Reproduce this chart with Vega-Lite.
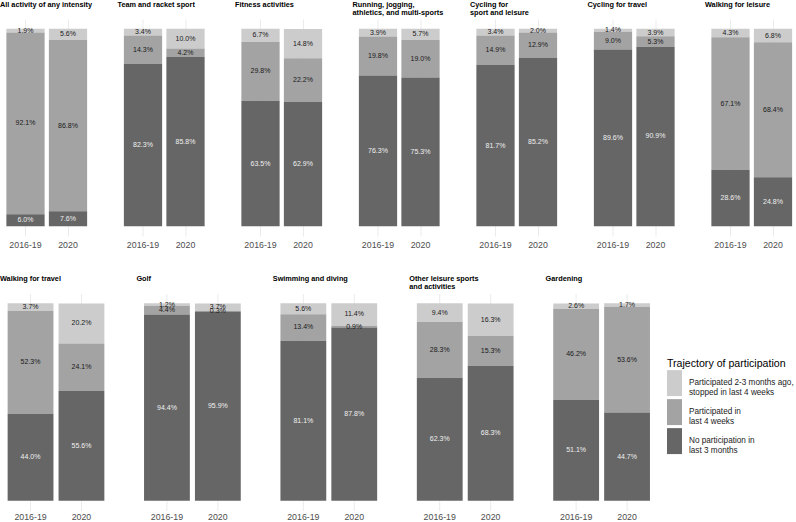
{
"$schema": "https://vega.github.io/schema/vega-lite/v6.json",
"background": "white",
"padding": {"left": 0, "top": 0, "right": 0, "bottom": 0},
"config": {"view": {"stroke": null}, "font": "Liberation Sans"},
"datasets": {
"levels": [
{"trajectory": "No participation in last 3 months", "level": 1},
{"trajectory": "Participated in last 4 weeks", "level": 2},
{"trajectory": "Participated 2-3 months ago, stopped in last 4 weeks", "level": 3}
],
"participation": [
{"activity": "All activity of any intensity", "period": "2016-19", "trajectory": "Participated 2-3 months ago, stopped in last 4 weeks", "pct": 0.019},
{"activity": "All activity of any intensity", "period": "2016-19", "trajectory": "Participated in last 4 weeks", "pct": 0.921},
{"activity": "All activity of any intensity", "period": "2016-19", "trajectory": "No participation in last 3 months", "pct": 0.060},
{"activity": "All activity of any intensity", "period": "2020", "trajectory": "Participated 2-3 months ago, stopped in last 4 weeks", "pct": 0.056},
{"activity": "All activity of any intensity", "period": "2020", "trajectory": "Participated in last 4 weeks", "pct": 0.868},
{"activity": "All activity of any intensity", "period": "2020", "trajectory": "No participation in last 3 months", "pct": 0.076},
{"activity": "Team and racket sport", "period": "2016-19", "trajectory": "Participated 2-3 months ago, stopped in last 4 weeks", "pct": 0.034},
{"activity": "Team and racket sport", "period": "2016-19", "trajectory": "Participated in last 4 weeks", "pct": 0.143},
{"activity": "Team and racket sport", "period": "2016-19", "trajectory": "No participation in last 3 months", "pct": 0.823},
{"activity": "Team and racket sport", "period": "2020", "trajectory": "Participated 2-3 months ago, stopped in last 4 weeks", "pct": 0.100},
{"activity": "Team and racket sport", "period": "2020", "trajectory": "Participated in last 4 weeks", "pct": 0.042},
{"activity": "Team and racket sport", "period": "2020", "trajectory": "No participation in last 3 months", "pct": 0.858},
{"activity": "Fitness activities", "period": "2016-19", "trajectory": "Participated 2-3 months ago, stopped in last 4 weeks", "pct": 0.067},
{"activity": "Fitness activities", "period": "2016-19", "trajectory": "Participated in last 4 weeks", "pct": 0.298},
{"activity": "Fitness activities", "period": "2016-19", "trajectory": "No participation in last 3 months", "pct": 0.635},
{"activity": "Fitness activities", "period": "2020", "trajectory": "Participated 2-3 months ago, stopped in last 4 weeks", "pct": 0.148},
{"activity": "Fitness activities", "period": "2020", "trajectory": "Participated in last 4 weeks", "pct": 0.222},
{"activity": "Fitness activities", "period": "2020", "trajectory": "No participation in last 3 months", "pct": 0.629},
{"activity": "Running, jogging, athletics, and multi-sports", "period": "2016-19", "trajectory": "Participated 2-3 months ago, stopped in last 4 weeks", "pct": 0.039},
{"activity": "Running, jogging, athletics, and multi-sports", "period": "2016-19", "trajectory": "Participated in last 4 weeks", "pct": 0.198},
{"activity": "Running, jogging, athletics, and multi-sports", "period": "2016-19", "trajectory": "No participation in last 3 months", "pct": 0.763},
{"activity": "Running, jogging, athletics, and multi-sports", "period": "2020", "trajectory": "Participated 2-3 months ago, stopped in last 4 weeks", "pct": 0.057},
{"activity": "Running, jogging, athletics, and multi-sports", "period": "2020", "trajectory": "Participated in last 4 weeks", "pct": 0.190},
{"activity": "Running, jogging, athletics, and multi-sports", "period": "2020", "trajectory": "No participation in last 3 months", "pct": 0.753},
{"activity": "Cycling for sport and leisure", "period": "2016-19", "trajectory": "Participated 2-3 months ago, stopped in last 4 weeks", "pct": 0.034},
{"activity": "Cycling for sport and leisure", "period": "2016-19", "trajectory": "Participated in last 4 weeks", "pct": 0.149},
{"activity": "Cycling for sport and leisure", "period": "2016-19", "trajectory": "No participation in last 3 months", "pct": 0.817},
{"activity": "Cycling for sport and leisure", "period": "2020", "trajectory": "Participated 2-3 months ago, stopped in last 4 weeks", "pct": 0.020},
{"activity": "Cycling for sport and leisure", "period": "2020", "trajectory": "Participated in last 4 weeks", "pct": 0.129},
{"activity": "Cycling for sport and leisure", "period": "2020", "trajectory": "No participation in last 3 months", "pct": 0.852},
{"activity": "Cycling for travel", "period": "2016-19", "trajectory": "Participated 2-3 months ago, stopped in last 4 weeks", "pct": 0.014},
{"activity": "Cycling for travel", "period": "2016-19", "trajectory": "Participated in last 4 weeks", "pct": 0.090},
{"activity": "Cycling for travel", "period": "2016-19", "trajectory": "No participation in last 3 months", "pct": 0.896},
{"activity": "Cycling for travel", "period": "2020", "trajectory": "Participated 2-3 months ago, stopped in last 4 weeks", "pct": 0.039},
{"activity": "Cycling for travel", "period": "2020", "trajectory": "Participated in last 4 weeks", "pct": 0.053},
{"activity": "Cycling for travel", "period": "2020", "trajectory": "No participation in last 3 months", "pct": 0.909},
{"activity": "Walking for leisure", "period": "2016-19", "trajectory": "Participated 2-3 months ago, stopped in last 4 weeks", "pct": 0.043},
{"activity": "Walking for leisure", "period": "2016-19", "trajectory": "Participated in last 4 weeks", "pct": 0.671},
{"activity": "Walking for leisure", "period": "2016-19", "trajectory": "No participation in last 3 months", "pct": 0.286},
{"activity": "Walking for leisure", "period": "2020", "trajectory": "Participated 2-3 months ago, stopped in last 4 weeks", "pct": 0.068},
{"activity": "Walking for leisure", "period": "2020", "trajectory": "Participated in last 4 weeks", "pct": 0.684},
{"activity": "Walking for leisure", "period": "2020", "trajectory": "No participation in last 3 months", "pct": 0.248},
{"activity": "Walking for travel", "period": "2016-19", "trajectory": "Participated 2-3 months ago, stopped in last 4 weeks", "pct": 0.037},
{"activity": "Walking for travel", "period": "2016-19", "trajectory": "Participated in last 4 weeks", "pct": 0.523},
{"activity": "Walking for travel", "period": "2016-19", "trajectory": "No participation in last 3 months", "pct": 0.440},
{"activity": "Walking for travel", "period": "2020", "trajectory": "Participated 2-3 months ago, stopped in last 4 weeks", "pct": 0.202},
{"activity": "Walking for travel", "period": "2020", "trajectory": "Participated in last 4 weeks", "pct": 0.241},
{"activity": "Walking for travel", "period": "2020", "trajectory": "No participation in last 3 months", "pct": 0.556},
{"activity": "Golf", "period": "2016-19", "trajectory": "Participated 2-3 months ago, stopped in last 4 weeks", "pct": 0.012},
{"activity": "Golf", "period": "2016-19", "trajectory": "Participated in last 4 weeks", "pct": 0.044},
{"activity": "Golf", "period": "2016-19", "trajectory": "No participation in last 3 months", "pct": 0.944},
{"activity": "Golf", "period": "2020", "trajectory": "Participated 2-3 months ago, stopped in last 4 weeks", "pct": 0.037},
{"activity": "Golf", "period": "2020", "trajectory": "Participated in last 4 weeks", "pct": 0.003},
{"activity": "Golf", "period": "2020", "trajectory": "No participation in last 3 months", "pct": 0.959},
{"activity": "Swimming and diving", "period": "2016-19", "trajectory": "Participated 2-3 months ago, stopped in last 4 weeks", "pct": 0.056},
{"activity": "Swimming and diving", "period": "2016-19", "trajectory": "Participated in last 4 weeks", "pct": 0.134},
{"activity": "Swimming and diving", "period": "2016-19", "trajectory": "No participation in last 3 months", "pct": 0.811},
{"activity": "Swimming and diving", "period": "2020", "trajectory": "Participated 2-3 months ago, stopped in last 4 weeks", "pct": 0.114},
{"activity": "Swimming and diving", "period": "2020", "trajectory": "Participated in last 4 weeks", "pct": 0.009},
{"activity": "Swimming and diving", "period": "2020", "trajectory": "No participation in last 3 months", "pct": 0.878},
{"activity": "Other leisure sports and activities", "period": "2016-19", "trajectory": "Participated 2-3 months ago, stopped in last 4 weeks", "pct": 0.094},
{"activity": "Other leisure sports and activities", "period": "2016-19", "trajectory": "Participated in last 4 weeks", "pct": 0.283},
{"activity": "Other leisure sports and activities", "period": "2016-19", "trajectory": "No participation in last 3 months", "pct": 0.623},
{"activity": "Other leisure sports and activities", "period": "2020", "trajectory": "Participated 2-3 months ago, stopped in last 4 weeks", "pct": 0.163},
{"activity": "Other leisure sports and activities", "period": "2020", "trajectory": "Participated in last 4 weeks", "pct": 0.153},
{"activity": "Other leisure sports and activities", "period": "2020", "trajectory": "No participation in last 3 months", "pct": 0.683},
{"activity": "Gardening", "period": "2016-19", "trajectory": "Participated 2-3 months ago, stopped in last 4 weeks", "pct": 0.026},
{"activity": "Gardening", "period": "2016-19", "trajectory": "Participated in last 4 weeks", "pct": 0.462},
{"activity": "Gardening", "period": "2016-19", "trajectory": "No participation in last 3 months", "pct": 0.511},
{"activity": "Gardening", "period": "2020", "trajectory": "Participated 2-3 months ago, stopped in last 4 weeks", "pct": 0.017},
{"activity": "Gardening", "period": "2020", "trajectory": "Participated in last 4 weeks", "pct": 0.536},
{"activity": "Gardening", "period": "2020", "trajectory": "No participation in last 3 months", "pct": 0.447}
]
},
"data": {"name": "participation"},
"transform": [{"lookup": "trajectory", "from": {"data": {"name": "levels"}, "key": "trajectory", "fields": ["level"]}}],
"spacing": 25.5,
"vconcat": [
{
"transform": [{"filter": {"field": "activity", "oneOf": ["All activity of any intensity", "Team and racket sport", "Fitness activities", "Running, jogging, athletics, and multi-sports", "Cycling for sport and leisure", "Cycling for travel", "Walking for leisure"]}}],
"facet": {"column": {"field": "activity", "type": "nominal", "sort": ["All activity of any intensity", "Team and racket sport", "Fitness activities", "Running, jogging, athletics, and multi-sports", "Cycling for sport and leisure", "Cycling for travel", "Walking for leisure"],
"header": {"title": null, "labelOrient": "top", "labelAnchor": "start", "labelAlign": "left", "labelBaseline": "top", "labelFont": "Liberation Sans", "labelFontSize": 7.3, "labelFontWeight": "bold", "labelColor": "#000000", "labelLineHeight": 7.8, "labelPadding": 3, "labelLimit": 0,
"labelExpr": "datum.value == 'Running, jogging, athletics, and multi-sports' ? ['Running, jogging,', 'athletics, and multi-sports'] : datum.value == 'Cycling for sport and leisure' ? ['Cycling for', 'sport and leisure'] : datum.value == 'Other leisure sports and activities' ? ['Other leisure sports', 'and activities'] : [datum.value, ' ']"}}},
"spacing": {"column": 23.5},
"spec": {"width": 93.5, "height": 217, "layer": [
{"mark": {"type": "bar"}, "encoding": {
"x": {"field": "period", "type": "nominal", "sort": ["2016-19", "2020"], "scale": {"paddingInner": 0.1, "paddingOuter": 0.15}, "axis": {"title": null, "labelAngle": 0, "domain": false, "ticks": false, "labelFont": "Liberation Sans", "labelFontSize": 8.8, "labelColor": "#4d4d4d", "labelPadding": 4, "grid": true, "gridColor": "#ebebeb", "gridWidth": 1, "bandPosition": 0.5}},
"y": {"field": "pct", "type": "quantitative", "stack": "zero", "scale": {"domain": [-0.05, 1.05], "nice": false, "zero": false}, "axis": null},
"color": {"field": "trajectory", "type": "nominal", "scale": {"domain": ["Participated 2-3 months ago, stopped in last 4 weeks", "Participated in last 4 weeks", "No participation in last 3 months"], "range": ["#cccccc", "#a3a3a3", "#666666"]},
"legend": {"orient": "none", "legendX": 667, "legendY": 340, "title": "Trajectory of participation", "titleFont": "Liberation Sans", "titleFontSize": 10.6, "titleFontWeight": "normal", "titleColor": "#000000", "titlePadding": 6, "labelFont": "Liberation Sans", "labelFontSize": 8.2, "labelColor": "#1a1a1a", "labelOffset": 7, "labelLimit": 0, "symbolType": "M-1,-1.73H1V1.73H-1Z", "symbolSize": 225, "symbolStrokeWidth": 0, "symbolOpacity": 1, "rowPadding": 2,
"labelExpr": "datum.label == 'Participated 2-3 months ago, stopped in last 4 weeks' ? ['Participated 2-3 months ago,', 'stopped in last 4 weeks'] : datum.label == 'Participated in last 4 weeks' ? ['Participated in', 'last 4 weeks'] : ['No participation in', 'last 3 months']"}},
"order": {"field": "level", "type": "quantitative", "sort": "ascending"}
}},
{"mark": {"type": "text", "fontSize": 7, "font": "Liberation Sans"}, "encoding": {
"x": {"field": "period", "type": "nominal", "sort": ["2016-19", "2020"]},
"y": {"field": "pct", "type": "quantitative", "stack": "zero", "bandPosition": 0.5},
"detail": {"field": "trajectory", "type": "nominal"},
"order": {"field": "level", "type": "quantitative", "sort": "ascending"},
"text": {"field": "pct", "type": "quantitative", "format": ".1%"},
"color": {"condition": {"test": "datum.level == 1", "value": "#f0f0f0"}, "value": "#1a1a1a"}
}}
]}
},
{
"transform": [{"filter": {"field": "activity", "oneOf": ["Walking for travel", "Golf", "Swimming and diving", "Other leisure sports and activities", "Gardening"]}}],
"facet": {"column": {"field": "activity", "type": "nominal", "sort": ["Walking for travel", "Golf", "Swimming and diving", "Other leisure sports and activities", "Gardening"],
"header": {"title": null, "labelOrient": "top", "labelAnchor": "start", "labelAlign": "left", "labelBaseline": "top", "labelFont": "Liberation Sans", "labelFontSize": 7.3, "labelFontWeight": "bold", "labelColor": "#000000", "labelLineHeight": 7.8, "labelPadding": 3, "labelLimit": 0,
"labelExpr": "datum.value == 'Running, jogging, athletics, and multi-sports' ? ['Running, jogging,', 'athletics, and multi-sports'] : datum.value == 'Cycling for sport and leisure' ? ['Cycling for', 'sport and leisure'] : datum.value == 'Other leisure sports and activities' ? ['Other leisure sports', 'and activities'] : [datum.value, ' ']"}}},
"spacing": {"column": 24.4},
"spec": {"width": 112, "height": 217, "layer": [
{"mark": {"type": "bar"}, "encoding": {
"x": {"field": "period", "type": "nominal", "sort": ["2016-19", "2020"], "scale": {"paddingInner": 0.1, "paddingOuter": 0.15}, "axis": {"title": null, "labelAngle": 0, "domain": false, "ticks": false, "labelFont": "Liberation Sans", "labelFontSize": 8.8, "labelColor": "#4d4d4d", "labelPadding": 2, "grid": true, "gridColor": "#ebebeb", "gridWidth": 1, "bandPosition": 0.5}},
"y": {"field": "pct", "type": "quantitative", "stack": "zero", "scale": {"domain": [-0.05, 1.05], "nice": false, "zero": false}, "axis": null},
"color": {"field": "trajectory", "type": "nominal", "scale": {"domain": ["Participated 2-3 months ago, stopped in last 4 weeks", "Participated in last 4 weeks", "No participation in last 3 months"], "range": ["#cccccc", "#a3a3a3", "#666666"]},
"legend": {"orient": "none", "legendX": 667, "legendY": 340, "title": "Trajectory of participation", "titleFont": "Liberation Sans", "titleFontSize": 10.6, "titleFontWeight": "normal", "titleColor": "#000000", "titlePadding": 6, "labelFont": "Liberation Sans", "labelFontSize": 8.2, "labelColor": "#1a1a1a", "labelOffset": 7, "labelLimit": 0, "symbolType": "M-1,-1.73H1V1.73H-1Z", "symbolSize": 225, "symbolStrokeWidth": 0, "symbolOpacity": 1, "rowPadding": 2,
"labelExpr": "datum.label == 'Participated 2-3 months ago, stopped in last 4 weeks' ? ['Participated 2-3 months ago,', 'stopped in last 4 weeks'] : datum.label == 'Participated in last 4 weeks' ? ['Participated in', 'last 4 weeks'] : ['No participation in', 'last 3 months']"}},
"order": {"field": "level", "type": "quantitative", "sort": "ascending"}
}},
{"mark": {"type": "text", "fontSize": 7, "font": "Liberation Sans"}, "encoding": {
"x": {"field": "period", "type": "nominal", "sort": ["2016-19", "2020"]},
"y": {"field": "pct", "type": "quantitative", "stack": "zero", "bandPosition": 0.5},
"detail": {"field": "trajectory", "type": "nominal"},
"order": {"field": "level", "type": "quantitative", "sort": "ascending"},
"text": {"field": "pct", "type": "quantitative", "format": ".1%"},
"color": {"condition": {"test": "datum.level == 1", "value": "#f0f0f0"}, "value": "#1a1a1a"}
}}
]}
}
]
}
